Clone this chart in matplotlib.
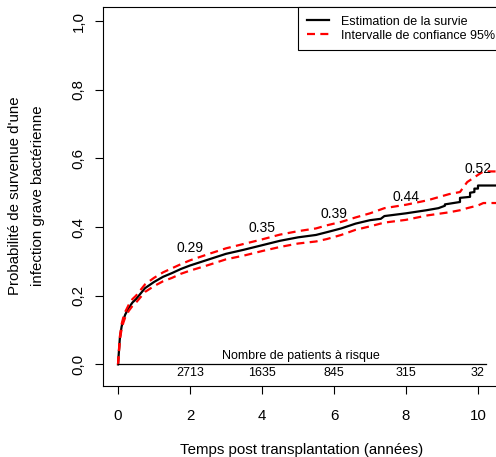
import numpy as np
import matplotlib.pyplot as plt

plt.rcParams['font.family'] = ['Liberation Sans', 'DejaVu Sans']

# cumulative incidence estimate
temps = [0, 0.02, 0.05, 0.1, 0.15, 0.2, 0.3, 0.4, 0.5, 0.75,
         1.0, 1.25, 1.5, 1.75, 2.0, 2.5, 3.0, 3.5, 4.0, 4.5,
         5.0, 5.5, 5.8, 6.2, 6.6, 7.0, 7.3, 7.4, 8.0, 8.57,
         8.9, 9.08, 9.08, 9.5, 9.5, 9.78, 9.78, 9.9, 9.9, 10.0,
         10.0, 10.6]
estim = [0, 0.03, 0.075, 0.11, 0.13, 0.145, 0.165, 0.18, 0.19, 0.222,
         0.24, 0.255, 0.266, 0.278, 0.288, 0.305, 0.322, 0.334, 0.347, 0.36,
         0.37, 0.377, 0.385, 0.396, 0.41, 0.42, 0.424, 0.432, 0.44, 0.449,
         0.455, 0.462, 0.466, 0.473, 0.485, 0.488, 0.5, 0.502, 0.512, 0.512,
         0.521, 0.521]

# 95% confidence interval
temps_ic = [0, 0.02, 0.05, 0.1, 0.15, 0.2, 0.3, 0.4, 0.5, 0.75,
            1.0, 1.25, 1.5, 1.75, 2.0, 2.5, 3.0, 3.5, 4.0, 4.5,
            5.0, 5.5, 5.8, 6.2, 6.6, 7.0, 7.4, 8.0, 8.6, 9.2,
            9.5, 9.7, 10.0, 10.15, 10.6]
ic_haut = [0, 0.033, 0.08, 0.117, 0.138, 0.153, 0.174, 0.19, 0.2, 0.233,
           0.252, 0.268, 0.28, 0.292, 0.303, 0.321, 0.338, 0.351, 0.364, 0.378,
           0.388, 0.396, 0.405, 0.415, 0.428, 0.44, 0.455, 0.465, 0.478, 0.496,
           0.502, 0.531, 0.552, 0.562, 0.562]
ic_bas = [0, 0.027, 0.07, 0.103, 0.122, 0.137, 0.156, 0.17, 0.18, 0.211,
          0.228, 0.242, 0.252, 0.264, 0.273, 0.289, 0.306, 0.317, 0.33, 0.342,
          0.352, 0.358, 0.365, 0.377, 0.392, 0.402, 0.413, 0.421, 0.434, 0.443,
          0.449, 0.455, 0.463, 0.47, 0.47]

# labels on the curve and number at risk
annees = [2, 4, 6, 8, 10]
valeurs = ['0.29', '0.35', '0.39', '0.44', '0.52']
valeurs_y = [0.29, 0.35, 0.39, 0.44, 0.52]
a_risque = ['2713', '1635', '845', '315', '32']

W, H = 496, 457
fig = plt.figure(figsize=(W / 100, H / 100), dpi=100)
ax = fig.add_axes([103 / W, 1 - 386 / H, 404 / W, 379 / H])

for x, lab, v in zip(annees, valeurs, valeurs_y):
    ax.text(x, v + 0.048, lab, ha='center', va='center', fontsize=10,
            color='black')

ax.plot(temps, estim, color='black', lw=1.6,
        label='Estimation de la survie')
ax.plot(temps_ic, ic_haut, color='red', lw=1.6,
        linestyle=(0, (3.6, 2.4)), label='Intervalle de confiance 95%')
ax.plot(temps_ic, ic_bas, color='red', lw=1.6,
        linestyle=(0, (3.6, 2.4)))

# risk table
ax.plot([0, 10.22], [0, 0], color='black', lw=0.9)
ax.text(5.08, 0.023, 'Nombre de patients à risque', ha='center',
        va='center', fontsize=9)
for x, n in zip(annees, a_risque):
    ax.text(x, -0.026, n, ha='center', va='center', fontsize=9)

ax.set_xlim(-0.417, 10.806)
ax.set_ylim(-0.063, 1.041)
ax.set_xticks([0, 2, 4, 6, 8, 10])
ax.set_yticks([0, 0.2, 0.4, 0.6, 0.8, 1.0])
ax.set_yticklabels(['0,0', '0,2', '0,4', '0,6', '0,8', '1,0'],
                   rotation=90, va='center')
ax.tick_params(direction='out', length=5.5, width=0.8, labelsize=10.8)
ax.tick_params(axis='x', pad=11)
ax.tick_params(axis='y', pad=7)
for s in ax.spines.values():
    s.set_linewidth(0.8)

leg = ax.legend(loc='upper left', bbox_to_anchor=(0.4827, 1.0),
                borderaxespad=0, fontsize=9, frameon=True, fancybox=False,
                edgecolor='black', framealpha=1, handlelength=1.8,
                handletextpad=0.9, labelspacing=0.15, borderpad=0.7)
leg.get_frame().set_linewidth(0.8)

fig.text(302 / W, 1 - 450 / H, 'Temps post transplantation (années)',
         ha='center', va='center', fontsize=10.8)
fig.text(15 / W, 1 - 196 / H, "Probabilité de survenue d'une",
         rotation=90, ha='center', va='center', fontsize=10.8)
fig.text(38 / W, 1 - 196 / H, 'infection grave bactérienne',
         rotation=90, ha='center', va='center', fontsize=10.8)

fig.savefig('out.png', dpi=100)
